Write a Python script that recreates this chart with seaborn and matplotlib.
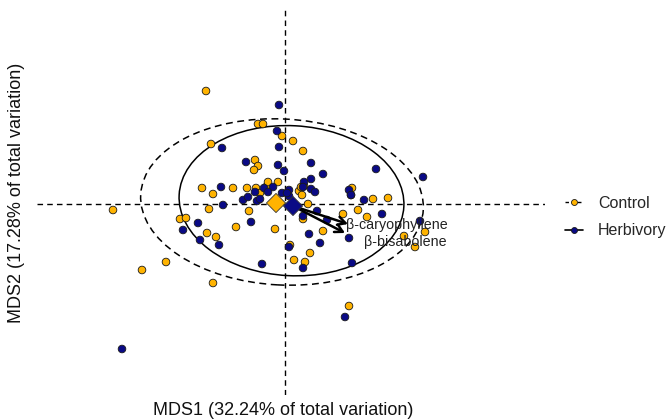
import numpy as np
import pandas as pd
import matplotlib
matplotlib.use("Agg")
import matplotlib.pyplot as plt
from matplotlib.patches import Ellipse
from matplotlib.lines import Line2D
import seaborn as sns

# MDS scores
control_x = [-0.79, -0.27, -0.22, -0.74, -0.03, 0.08, 0.18, -0.30, -0.27, -0.31,
             -0.83, -0.72, -0.52, -0.38, -0.29, -0.25, -0.18, -0.17, -0.07, 0.14,
             0.16, 0.19, 0.17, 0.23, -1.72, -0.76, -0.36, -1.05, -0.99, -0.78,
             -0.69, -0.49, -0.10, 0.18, 0.38, 0.58, 0.67, 0.66, 0.73, 0.82,
             0.88, 1.03, 0.05, 0.25, 0.09, 0.20, -1.19, -1.43, -0.72, 0.64,
             1.19, 1.30, 1.40]
control_y = [1.13, 0.80, 0.80, 0.60, 0.68, 0.63, 0.53, 0.44, 0.38, 0.34,
             0.16, 0.10, 0.16, 0.16, 0.16, 0.11, 0.18, 0.22, 0.22, 0.13,
             0.17, 0.18, 0.09, 0.00, -0.06, -0.05, -0.07, -0.15, -0.14, -0.29,
             -0.33, -0.23, -0.25, -0.15, -0.27, -0.10, 0.16, 0.09, -0.06, -0.13,
             0.05, 0.06, -0.41, -0.49, -0.56, -0.58, -0.58, -0.66, -0.79, -1.02,
             -0.32, -0.43, -0.28]

herb_x = [-0.06, -0.08, -0.06, -0.63, -0.39, -0.07, -0.01, 0.26, 0.38, 0.91,
          1.38, 0.19, 0.26, 0.26, 0.30, 0.18, -0.64, -0.62, -0.42, -0.37,
          -0.30, -0.28, -0.25, -0.21, -0.12, -0.17, -0.03, 0.04, 0.04, 0.02,
          0.64, 0.66, 0.79, 0.97, 0.32, 0.18, 0.42, 1.35, 0.24, 0.35,
          0.64, 0.67, 0.18, 0.04, -0.23, -0.66, -0.85, -1.02, -0.87, -0.34,
          0.60, -1.63]
herb_y = [0.99, 0.73, 0.57, 0.56, 0.42, 0.39, 0.33, 0.41, 0.30, 0.35,
          0.27, 0.22, 0.25, 0.15, 0.12, 0.17, 0.17, -0.01, 0.04, 0.07,
          0.12, 0.03, 0.05, 0.16, 0.17, 0.12, 0.11, 0.14, 0.08, 0.11,
          0.14, 0.09, 0.04, -0.10, -0.07, -0.12, -0.16, -0.17, -0.30, -0.39,
          -0.34, -0.59, -0.64, -0.43, -0.60, -0.41, -0.36, -0.26, -0.19, -0.18,
          -1.13, -1.45]

groups = ["Control", "Herbivory"]
centroid_x = [-0.09, 0.08]
centroid_y = [0.01, -0.02]

# group ellipses: centre, width, height, angle
ell_cx = [-0.03, 0.065]
ell_cy = [0.02, 0.033]
ell_w = [2.83, 2.25]
ell_h = [1.66, 1.50]
ell_angle = [-3, -3]

# fitted compound vectors
compounds = ["β-caryophyllene", "β-bisabolene"]
vec_x = [0.63, 0.60]
vec_y = [-0.20, -0.29]

palette = {"Control": "#FFB300", "Herbivory": "#0A0A85"}

df = pd.DataFrame({
    "MDS1": control_x + herb_x,
    "MDS2": control_y + herb_y,
    "Treatment": ["Control"] * len(control_x) + ["Herbivory"] * len(herb_x),
})
cent = pd.DataFrame({"MDS1": centroid_x, "MDS2": centroid_y, "Treatment": groups})

sns.set_style("white")
plt.rcParams["font.family"] = ["Liberation Sans", "DejaVu Sans"]

fig = plt.figure(figsize=(6.67, 4.19), dpi=100)
ax = fig.add_axes([37 / 667, 24 / 419, 508 / 667, 385 / 419])

ax.axhline(0, color="black", lw=1, dashes=(4, 3), zorder=1)
ax.axvline(0, color="black", lw=1, dashes=(4, 3), zorder=1)

for i, g in enumerate(groups):
    e = Ellipse((ell_cx[i], ell_cy[i]), ell_w[i], ell_h[i], angle=ell_angle[i],
                fill=False, edgecolor="black", lw=1.1, zorder=2)
    if g == "Control":
        e.set_linestyle((0, (4.5, 3)))
    ax.add_patch(e)

sns.scatterplot(data=df, x="MDS1", y="MDS2", hue="Treatment", palette=palette,
                s=30, edgecolor="#1a1a1a", linewidth=0.6, legend=False, ax=ax, zorder=3)

for i, name in enumerate(compounds):
    ax.annotate("", xy=(vec_x[i], vec_y[i]), xytext=(centroid_x[1], centroid_y[1]),
                arrowprops=dict(arrowstyle="->,head_length=0.55,head_width=0.3",
                                color="black", lw=1.8, shrinkA=0, shrinkB=0), zorder=4)

ax.annotate(compounds[0], xy=(vec_x[0], vec_y[0]), xytext=(35, -0.7),
            textcoords="offset points", ha="center", va="center", fontsize=10.3, color="#222222", zorder=4)
ax.annotate(compounds[1], xy=(vec_x[1], vec_y[1]), xytext=(43.5, -6.5),
            textcoords="offset points", ha="center", va="center", fontsize=10.3, color="#222222", zorder=4)

sns.scatterplot(data=cent, x="MDS1", y="MDS2", hue="Treatment", palette=palette,
                marker="D", s=95, edgecolor="#333333", linewidth=0.6, legend=False, ax=ax, zorder=5)

ax.set_xlim(-2.48, 2.60)
ax.set_ylim(-1.91, 1.94)
ax.set_xticks([])
ax.set_yticks([])
sns.despine(ax=ax, left=True, bottom=True)

ax.set_xlabel("MDS1 (32.24% of total variation)", fontsize=13, color="#111111")
ax.set_ylabel("MDS2 (17.28% of total variation)", fontsize=13, color="#111111")
ax.xaxis.set_label_coords((283 - 37) / 508, -(410 - 395) / 385)
ax.xaxis.label.set_va("center")
ax.yaxis.set_label_coords((17 - 37) / 508, (395 - 193) / 385)
ax.yaxis.label.set_va("center")

handles = [
    Line2D([], [], color="black", lw=1, dashes=(2.5, 2), marker="o", markersize=4.3,
           markerfacecolor=palette["Control"], markeredgecolor="#1a1a1a", markeredgewidth=0.6),
    Line2D([], [], color="black", lw=1.2, marker="o", markersize=4.3,
           markerfacecolor=palette["Herbivory"], markeredgecolor="#1a1a1a", markeredgewidth=0.6),
]
fig.legend(handles, groups, loc="upper left", bbox_to_anchor=(565 / 667, 1 - 196 / 419),
           frameon=False, borderpad=0, borderaxespad=0, handlelength=1.12,
           handletextpad=0.95, labelspacing=0.78, fontsize=11.5)

fig.savefig("out.png", dpi=100)
